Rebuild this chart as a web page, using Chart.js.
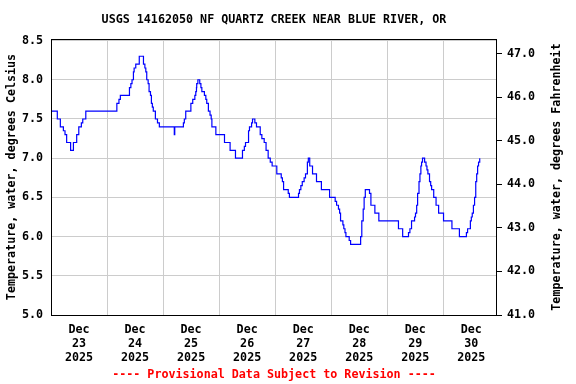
<!DOCTYPE html>
<html><head><meta charset="utf-8">
<script src="https://cdn.jsdelivr.net/npm/chart.js@4"></script>
<style>html,body{margin:0;padding:0;background:#fff}</style>
</head><body>
<canvas id="c" width="576" height="384"></canvas>
<script>
// Hours since 2025-12-23 00:00 at which each reading starts
const hours = [0,2.7,4.0,5.3,6.0,6.7,8.4,9.6,11.0,11.9,13.0,13.6,14.9,28.2,29.1,29.7,33.6,34.2,34.7,35.3,35.6,36.3,37.8,39.6,40.2,40.6,41.0,41.6,42.0,42.6,43.0,43.4,43.8,44.7,45.6,46.4,52.8,53.0,56.7,57.1,57.7,59.9,60.7,61.6,62.0,62.3,62.4,62.9,63.7,64.2,64.6,65.7,66.3,66.7,67.4,68.1,68.6,68.9,70.6,74.3,76.7,79.0,82.0,82.8,83.3,84.6,85.0,85.9,86.3,87.3,88.0,89.6,90.3,91.3,92.1,93.0,93.9,94.7,96.7,98.6,99.1,99.6,101.6,102.1,106.0,106.4,107.0,107.6,108.4,109.0,109.8,110.2,110.8,112.0,113.7,115.8,119.3,121.7,122.3,123.1,123.6,124.0,125.0,125.4,125.9,126.3,127.7,128.3,132.6,133.1,133.7,134.1,134.6,136.4,137.0,138.7,140.4,148.8,150.6,153.1,153.7,154.4,155.7,156.1,156.6,157.0,157.6,158.0,158.4,158.7,159.1,160.0,160.6,161.0,161.4,162.1,162.6,163.0,163.9,164.9,166.0,168.1,171.7,174.9,177.9,178.4,179.6,180.0,180.4,180.9,181.4,181.9,182.3,182.7,183.1,183.6];
const tempC = [7.6,7.5,7.4,7.35,7.3,7.2,7.1,7.2,7.3,7.4,7.45,7.5,7.6,7.7,7.75,7.8,7.9,7.95,8.0,8.1,8.15,8.2,8.3,8.2,8.15,8.1,8.0,7.95,7.85,7.8,7.7,7.65,7.6,7.5,7.45,7.4,7.3,7.4,7.45,7.5,7.6,7.7,7.75,7.8,7.85,7.9,7.95,8.0,7.95,7.9,7.85,7.8,7.75,7.7,7.6,7.55,7.5,7.4,7.3,7.2,7.1,7.0,7.1,7.15,7.2,7.35,7.4,7.45,7.5,7.45,7.4,7.3,7.25,7.2,7.1,7.0,6.95,6.9,6.8,6.75,6.7,6.6,6.55,6.5,6.55,6.6,6.65,6.7,6.75,6.8,6.95,7.0,6.9,6.8,6.7,6.6,6.5,6.45,6.4,6.35,6.3,6.2,6.15,6.1,6.05,6.0,5.95,5.9,6.0,6.2,6.35,6.5,6.6,6.55,6.4,6.3,6.2,6.1,6.0,6.05,6.1,6.2,6.25,6.3,6.4,6.55,6.7,6.8,6.9,6.95,7.0,6.95,6.9,6.85,6.8,6.7,6.65,6.6,6.5,6.4,6.3,6.2,6.1,6.0,6.05,6.1,6.2,6.25,6.3,6.4,6.5,6.7,6.8,6.9,6.95,7.0];
const dayLabels = ['23','24','25','26','27','28','29','30'];
const monthLabel = 'Dec';
const yearLabel = '2025';
const celsiusTicks = [5.0,5.5,6.0,6.5,7.0,7.5,8.0,8.5];
const fahrenheitTicks = [41,42,43,44,45,46,47];
const titleText = 'USGS 14162050 NF QUARTZ CREEK NEAR BLUE RIVER, OR';
const leftTitle = 'Temperature, water, degrees Celsius';
const rightTitle = 'Temperature, water, degrees Fahrenheit';
const footText = '---- Provisional Data Subject to Revision ----';

const yMin = 5.0, yMax = 8.52;
const xMax = 191;
const FONT = 'DejaVu Sans Mono';
const FSIZE = 11.7;
const tickFont = {family: FONT, weight: 'bold', size: FSIZE, lineHeight: 1.2};

const points = hours.map((h, i) => ({x: h, y: tempC[i]}));

const textPlugin = {
  id: 'texts',
  afterDraw(chart) {
    const ctx = chart.ctx, a = chart.chartArea;
    ctx.save();
    ctx.strokeStyle = '#000';
    ctx.lineWidth = 1;
    ctx.strokeRect(a.left + 0.5, a.top + 0.5, a.right - a.left - 1, a.bottom - a.top);
    ctx.font = 'bold ' + FSIZE + 'px "' + FONT + '"';
    ctx.fillStyle = '#000';
    ctx.textAlign = 'center';
    ctx.textBaseline = 'middle';
    const cx = (a.left + a.right) / 2, cy = (a.top + a.bottom) / 2;
    ctx.fillText(titleText, cx, 20);
    ctx.fillStyle = '#ff0000';
    ctx.fillText(footText, cx, 375);
    ctx.fillStyle = '#000';
    ctx.save(); ctx.translate(12, cy); ctx.rotate(-Math.PI / 2); ctx.fillText(leftTitle, 0, 0); ctx.restore();
    ctx.save(); ctx.translate(557, cy); ctx.rotate(-Math.PI / 2); ctx.fillText(rightTitle, 0, 0); ctx.restore();
    ctx.restore();
  }
};

new Chart(document.getElementById('c'), {
  type: 'line',
  data: {datasets: [{data: points, borderColor: '#0000ff', borderWidth: 1.2, pointRadius: 0, stepped: true, fill: false, yAxisID: 'y'}]},
  options: {
    responsive: false, animation: false, devicePixelRatio: 1,
    layout: {padding: {top: 39, left: 0, right: 0, bottom: 0}},
    plugins: {legend: {display: false}, tooltip: {enabled: false}, title: {display: false}},
    scales: {
      x: {
        type: 'linear', min: 0, max: xMax, position: 'bottom',
        afterBuildTicks(s) {
          const t = [];
          dayLabels.forEach((d, i) => { t.push({value: i * 24}); t.push({value: i * 24 + 12}); });
          s.ticks = t;
        },
        afterFit(s) { s.height = 69; },
        ticks: {
          autoSkip: false, maxRotation: 0, color: '#000', font: tickFont, padding: 8,
          callback(v) { const r = v % 24; if (r !== 12) return ''; const i = (v - 12) / 24; return [monthLabel, dayLabels[i], yearLabel]; }
        },
        grid: {color: (c) => (c.tick && c.tick.value % 24 === 0) ? '#cccccc' : 'rgba(0,0,0,0)', lineWidth: 1, drawTicks: false},
        border: {display: false}
      },
      y: {
        type: 'linear', min: yMin, max: yMax, position: 'left',
        afterBuildTicks(s) { s.ticks = celsiusTicks.map(v => ({value: v})); },
        afterFit(s) { s.width = 51; },
        ticks: {color: '#000', font: tickFont, padding: 8, callback: (v) => Number(v).toFixed(1)},
        grid: {color: '#cccccc', lineWidth: 1, drawTicks: false},
        border: {display: false}
      },
      y2: {
        type: 'linear', min: yMin * 1.8 + 32, max: yMax * 1.8 + 32, position: 'right',
        afterBuildTicks(s) { s.ticks = fahrenheitTicks.map(v => ({value: v})); },
        afterFit(s) { s.width = 79; },
        ticks: {color: '#000', font: tickFont, padding: 5, callback: (v) => Number(v).toFixed(1)},
        grid: {drawOnChartArea: false, drawTicks: true, tickLength: 5, color: '#000', tickColor: '#000'},
        border: {display: false}
      }
    }
  },
  plugins: [textPlugin]
});
</script>
</body></html>
